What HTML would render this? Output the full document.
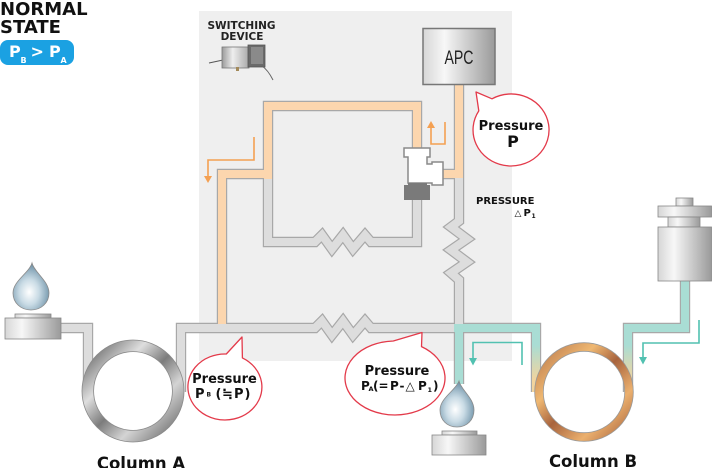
<!DOCTYPE html>
<html><head><meta charset="utf-8"><style>
html,body{margin:0;padding:0;background:#fff;}
svg{display:block;}
text{font-family:"DejaVu Sans","Noto Sans CJK JP",sans-serif;}
</style></head><body>
<svg width="712" height="468" viewBox="0 0 712 468" xmlns="http://www.w3.org/2000/svg">
<defs>
 <linearGradient id="gBox" x1="0" y1="0" x2="1" y2="0">
  <stop offset="0" stop-color="#d6d6d6"/><stop offset="0.3" stop-color="#f7f7f7"/><stop offset="1" stop-color="#9a9a9a"/>
 </linearGradient>
 <linearGradient id="gRingA" x1="0" y1="0" x2="1" y2="1">
  <stop offset="0" stop-color="#5e5e5e"/><stop offset="0.3" stop-color="#dedede"/><stop offset="0.5" stop-color="#7c7c7c"/><stop offset="0.7" stop-color="#d4d4d4"/><stop offset="1" stop-color="#666666"/>
 </linearGradient>
 <linearGradient id="gRingB" x1="0" y1="0" x2="1" y2="1">
  <stop offset="0" stop-color="#b8784c"/><stop offset="0.3" stop-color="#efb872"/><stop offset="0.5" stop-color="#a8643e"/><stop offset="0.75" stop-color="#ebb06e"/><stop offset="1" stop-color="#a9653e"/>
 </linearGradient>
 <radialGradient id="gDrop" cx="0.45" cy="0.62" r="0.6">
  <stop offset="0" stop-color="#ffffff"/><stop offset="0.45" stop-color="#c9dbe5"/><stop offset="1" stop-color="#6d91a7"/>
 </radialGradient>
 <linearGradient id="gTealY" gradientUnits="userSpaceOnUse" x1="0" y1="345" x2="0" y2="380">
  <stop offset="0" stop-color="#a9ddd4"/><stop offset="1" stop-color="#f2d49e"/>
 </linearGradient>
 <linearGradient id="gDev" x1="0" y1="0" x2="1" y2="0">
  <stop offset="0" stop-color="#9a9a9a"/><stop offset="0.4" stop-color="#eeeeee"/><stop offset="1" stop-color="#a8a8a8"/>
 </linearGradient>
</defs>

<!-- panel -->
<rect x="199" y="11" width="313" height="350" fill="#efefef"/>

<!-- pipe outlines -->
<g fill="none" stroke="#a8a8a8" stroke-width="10.4" stroke-linejoin="miter" stroke-miterlimit="6">
 <path d="M61,328 H88 V392"/>
 <path d="M181,392 V328 H315 L322,321 L332,335 L343,321 L353,335 L365,321 L371,328 H536 V392"/>
 <path d="M459,84 V221 L451,227 L467,239 L451,250 L467,262 L451,273 L459,280 V328"/>
 <path d="M222,328 V174 H268"/>
 <path d="M417,150 V106 H268 V242 H315 L322,235 L332,249 L343,235 L353,249 L365,235 L371,242 H417 V198"/>
 <path d="M440,174 H459"/>
 <path d="M459,328 V384"/>
 <path d="M628,392 V328 H685 V281"/>
</g>

<!-- orange fills -->
<g fill="none" stroke="#fcd6ae" stroke-width="8" stroke-linejoin="miter" stroke-miterlimit="6">
 <path d="M222,328 V174 H268"/>
 <path d="M268,179 V106 H417 V150"/>
 <path d="M459,84 V178"/>
 <path d="M440,174 H459"/>
</g>
<!-- gray fills -->
<g fill="none" stroke="#dddddd" stroke-width="8" stroke-linejoin="miter" stroke-miterlimit="6">
 <path d="M61,328 H88 V392"/>
 <path d="M181,392 V328 H315 L322,321 L332,335 L343,321 L353,335 L365,321 L371,328 H454"/>
 <path d="M459,178 V221 L451,227 L467,239 L451,250 L467,262 L451,273 L459,280 V328"/>
 <path d="M268,179 V242 H315 L322,235 L332,249 L343,235 L353,249 L365,235 L371,242 H417 V198"/>
</g>
<!-- teal fills -->
<g fill="none" stroke="#a9ddd4" stroke-width="8" stroke-linejoin="miter">
 <path d="M454,328 H536 V346"/>
 <path d="M459,328 V384"/>
 <path d="M628,346 V328 H685 V281"/>
</g>
<g fill="none" stroke="url(#gTealY)" stroke-width="8">
 <path d="M536,345 V392"/>
 <path d="M628,392 V345"/>
</g>

<!-- rings -->
<circle cx="133" cy="391" r="45.2" fill="none" stroke="url(#gRingA)" stroke-width="11.5"/>
<circle cx="133" cy="391" r="51" fill="none" stroke="#8a8a8a" stroke-width="0.8"/>
<circle cx="133" cy="391" r="39.4" fill="none" stroke="#8a8a8a" stroke-width="0.8"/>
<circle cx="584" cy="392" r="45" fill="none" stroke="url(#gRingB)" stroke-width="8.6"/>
<circle cx="584" cy="392" r="49.3" fill="none" stroke="#999" stroke-width="0.8"/>
<circle cx="584" cy="392" r="40.7" fill="none" stroke="#999" stroke-width="0.8"/>

<!-- APC -->
<rect x="423" y="28.5" width="72" height="56" fill="url(#gBox)" stroke="#777" stroke-width="1.5"/>
<text x="459" y="64" font-size="19" text-anchor="middle" textLength="29" lengthAdjust="spacingAndGlyphs" fill="#222" style="font-family:'Liberation Sans',sans-serif">APC</text>

<!-- valve -->
<polygon points="404,148 430,148 430,157 427,157 427,164 432,164 432,162 443,162 443,185 432,185 432,183 408,183 408,157 404,157" fill="#ffffff" stroke="#8a8a8a" stroke-width="1.5"/>
<path d="M408,183 H427 V185 H430 V200 H404 V185 H408 Z" fill="#7a7a7a"/>

<!-- orange arrows -->
<g fill="none" stroke="#f4a052" stroke-width="1.6">
 <path d="M254,137 V160 H208 V177"/>
 <path d="M445,122 V144 H431 V127"/>
</g>
<polygon points="204,176 212,176 208,183" fill="#f4a052"/>
<polygon points="427,128 435,128 431,121" fill="#f4a052"/>

<!-- teal arrows -->
<g fill="none" stroke="#52c1b1" stroke-width="1.6">
 <path d="M522,365 V342.5 H473 V358"/>
 <path d="M699,320 V343 H643 V357"/>
</g>
<polygon points="469,358 477,358 473,365.5" fill="#52c1b1"/>
<polygon points="639,357 647,357 643,364.5" fill="#52c1b1"/>

<!-- source A -->
<path d="M32,263 C34,272 49,281 49,293 C49,303 41,310 31,310 C21,310 13,303 13,293 C13,281 29,273 32,263 Z" fill="url(#gDrop)" stroke="#8a8a8a" stroke-width="0.8"/>
<rect x="15" y="314" width="36" height="4" fill="url(#gBox)" stroke="#888" stroke-width="0.8"/>
<rect x="5" y="318" width="56" height="21" fill="url(#gBox)" stroke="#888" stroke-width="0.8"/>

<!-- drop B -->
<path d="M459,381 C461,390 474,398 474,410 C474,420 467,427 457,427 C447,427 440,420 440,410 C440,398 456,390 459,381 Z" fill="url(#gDrop)" stroke="#8a8a8a" stroke-width="0.8"/>
<rect x="442" y="431" width="35" height="4" fill="url(#gBox)" stroke="#888" stroke-width="0.8"/>
<rect x="432" y="435" width="54" height="20" fill="url(#gBox)" stroke="#888" stroke-width="0.8"/>

<!-- pump right -->
<rect x="676" y="198" width="17" height="8" fill="url(#gBox)" stroke="#888" stroke-width="0.8"/>
<rect x="658" y="206" width="53.5" height="11" fill="url(#gBox)" stroke="#888" stroke-width="0.8"/>
<rect x="668" y="217" width="32" height="10" fill="url(#gBox)" stroke="#888" stroke-width="0.8"/>
<rect x="658" y="227" width="53.5" height="54" fill="url(#gBox)" stroke="#888" stroke-width="0.8"/>

<!-- switching device -->
<path d="M209,63 L223,60" stroke="#555" stroke-width="1" fill="none"/>
<rect x="222" y="47" width="27" height="21" fill="url(#gDev)" stroke="#777" stroke-width="0.8"/>
<rect x="248" y="45" width="17" height="22" fill="#6a6a6a" stroke="#555" stroke-width="0.8"/>
<rect x="251" y="47" width="12" height="17" fill="#8a8a8a"/>
<rect x="236" y="67" width="3" height="4" fill="#a38a5a"/>
<path d="M262,66 Q268,70 273,80" stroke="#666" stroke-width="1" fill="none"/>

<!-- callouts -->
<g fill="#ffffff" stroke="#e33a4a" stroke-width="1.3" stroke-linejoin="round">
 <path d="M492,98.8 L476,92 L478.8,110.9 A38,36 0 1 0 492,98.8 Z"/>
 <path d="M226.3,354 L242,337 L242.4,357.9 A37,33 0 1 1 226.3,354 Z"/>
 <path d="M393.3,341 L422,332.5 L421.5,346.6 A50,37 0 1 1 393.3,341 Z"/>
</g>

<!-- texts -->
<g font-weight="bold" fill="#111">
 <text x="0" y="15" font-size="18">NORMAL</text>
 <text x="0" y="33" font-size="18">STATE</text>
 <text x="241.5" y="29" font-size="10.5" text-anchor="middle" fill="#222">SWITCHING</text>
 <text x="242" y="40" font-size="10.5" text-anchor="middle" fill="#222">DEVICE</text>

 <text x="511" y="130" font-size="13" text-anchor="middle">Pressure</text>
 <text x="513" y="147" font-size="16" text-anchor="middle">P</text>

 <text x="224.5" y="383" font-size="13" text-anchor="middle">Pressure</text>
 <text x="195" y="398" font-size="13">P</text>
 <text x="206.5" y="396.5" font-size="6">B</text>
 <text x="215.5" y="398" font-size="13">(</text>
 <text x="222" y="398" font-size="13">≒</text>
 <text x="234" y="398" font-size="13">P</text>
 <text x="244.5" y="398" font-size="13">)</text>

 <text x="397" y="375" font-size="13" text-anchor="middle">Pressure</text>
 <text x="361" y="390" font-size="12">P</text>
 <text x="368.5" y="391" font-size="6.5">A</text>
 <text x="373" y="390" font-size="12">(</text>
 <text x="378.5" y="390" font-size="12">=</text>
 <text x="390" y="390" font-size="12">P</text>
 <text x="399.5" y="390" font-size="12">-</text>
 <text x="405.5" y="390" font-size="12" font-weight="normal">△</text>
 <text x="418" y="390" font-size="12">P</text>
 <text x="427.5" y="392" font-size="6.5">1</text>
 <text x="433" y="390" font-size="12">)</text>

 <text x="476" y="204" font-size="10">PRESSURE</text>
 <text x="514.5" y="216" font-size="9" font-weight="normal">△</text>
 <text x="523.5" y="216" font-size="10">P</text>
 <text x="531.5" y="218" font-size="6">1</text>

 <text x="141" y="469" font-size="16.5" text-anchor="middle">Column A</text>
 <text x="593" y="467" font-size="16.5" text-anchor="middle">Column B</text>
</g>

<!-- badge -->
<rect x="0" y="40" width="74" height="25" rx="8" ry="8" fill="#1ba1e2"/>
<g font-weight="bold" fill="#ffffff">
 <text x="9" y="57" font-size="16">P</text>
 <text x="20.5" y="63" font-size="8">B</text>
 <text x="30.5" y="57" font-size="16">&gt;</text>
 <text x="49" y="57" font-size="16">P</text>
 <text x="60.5" y="63" font-size="8">A</text>
</g>
</svg>
</body></html>
